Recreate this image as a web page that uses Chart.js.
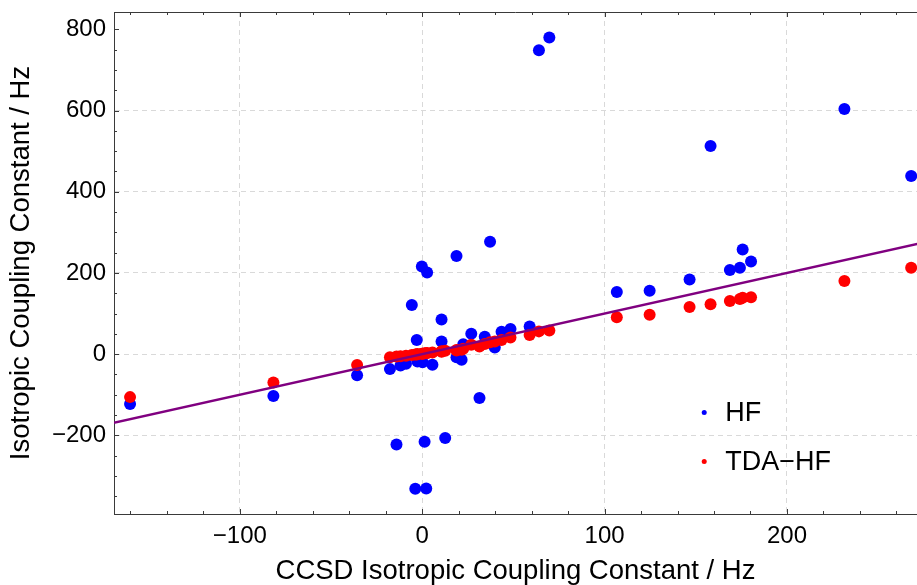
<!DOCTYPE html>
<html>
<head>
<meta charset="utf-8">
<script src="https://cdn.jsdelivr.net/npm/chart.js@4"></script>
<style>
  html, body { margin: 0; padding: 0; background: #fff; overflow: hidden; }
  canvas { display: block; }
</style>
</head>
<body>
<canvas id="couplingChart" width="917" height="585"></canvas>
<script>
// CCSD reference values (x) and the two methods (y)
const ccsd = [-160.2, -81.6, -35.7, -17.7, -14.1, -11.9, -8.9, -5.7, -3.8, -3.0, -2.6, -0.2, 0.2, 1.3, 2.2, 2.7,
    5.6, 10.6, 10.6, 12.6, 18.8, 18.8, 21.6, 22.5, 26.9, 31.4, 34.3, 37.2, 39.8, 43.5, 48.4, 58.9, 64.0, 69.7,
    106.7, 124.7, 146.6, 158.1, 168.7, 174.2, 175.7, 180.3, 231.5, 268.1];
const hf = [-123, -103, -52, -37, -223, -28, -24, 121, -332, 35, -18, 216, -20, -216, -331, 201,
    -26, 85, 31, -207, 242, -8, -14, 24, 50, -108, 43, 277, 16, 55, 62, 68, 749, 780,
    153, 156, 184, 513, 207, 213, 258, 228, 604, 439];
const tdaHf = [-106, -70, -27, -8, -6, -5, -4, -2, -1, -1, 0, 1, 1, 2, 2, 3,
    4, 6, 7, 8, 9, 10, 11, 13, 23, 19, 25, 29, 31, 35, 41, 47, 56, 58,
    91, 97, 116, 123, 131, 136, 139, 140, 180, 213];

// y = x reference line
const refLineX = [-300, 400];
const refLineY = [-300, 400];

// tick labels
const xTicks = [-100, 0, 100, 200];
const yTicks = [-200, 0, 200, 400, 600, 800];
const xMinorStep = 20;
const yMinorStep = 50;
const legendOrder = ['HF', 'TDA\u2212HF'];

const fmt = v => (v < 0 ? '\u2212' + Math.abs(v) : String(v));
const FONT = "'Liberation Sans', Arial, sans-serif";

// inner frame ticks, top frame line and the legend
const frameAndLegend = {
    id: 'frameAndLegend',
    afterDatasetsDraw(chart) {
        const ctx = chart.ctx;
        const area = chart.chartArea;
        const xs = chart.scales.x;
        const ys = chart.scales.y;
        ctx.save();
        ctx.strokeStyle = '#3a3a3a';
        ctx.lineWidth = 1;

        // top frame
        ctx.beginPath();
        ctx.moveTo(area.left, area.top + 0.5);
        ctx.lineTo(area.right, area.top + 0.5);
        ctx.stroke();

        // x ticks (bottom + top, pointing inward)
        for (let v = Math.ceil(xs.min / xMinorStep) * xMinorStep; v <= xs.max; v += xMinorStep) {
            const px = Math.round(xs.getPixelForValue(v)) + 0.5;
            const len = v % 100 === 0 ? 5 : 3;
            ctx.beginPath();
            ctx.moveTo(px, area.bottom);
            ctx.lineTo(px, area.bottom - len);
            ctx.moveTo(px, area.top);
            ctx.lineTo(px, area.top + len);
            ctx.stroke();
        }
        // y ticks (left, pointing inward)
        for (let v = Math.ceil(ys.min / yMinorStep) * yMinorStep; v <= ys.max; v += yMinorStep) {
            const py = Math.round(ys.getPixelForValue(v)) + 0.5;
            const len = v % 200 === 0 ? 5 : 3;
            ctx.beginPath();
            ctx.moveTo(area.left, py);
            ctx.lineTo(area.left + len, py);
            ctx.stroke();
        }

        // legend
        const lx = area.left + (area.right - area.left) * 0.735;
        let ly = area.top + (area.bottom - area.top) * 0.798;
        ctx.font = '27px ' + FONT;
        ctx.textBaseline = 'middle';
        legendOrder.forEach(name => {
            const d = chart.data.datasets.find(ds => ds.label === name);
            ctx.beginPath();
            ctx.fillStyle = d.backgroundColor;
            ctx.arc(lx, ly, 2.5, 0, Math.PI * 2);
            ctx.fill();
            ctx.fillStyle = '#000';
            ctx.fillText(d.label, lx + 21, ly + 1);
            ly += 49;
        });
        ctx.restore();
    }
};

const gridColor = c => (c.tick && c.tick.value === 800 ? 'rgba(0,0,0,0)' : '#d9d9d9');

const chart = new Chart(document.getElementById('couplingChart'), {
    type: 'scatter',
    data: {
        datasets: [
            {
                type: 'line',
                label: 'y = x',
                data: refLineX.map((x, i) => ({ x: x, y: refLineY[i] })),
                borderColor: '#800080',
                borderWidth: 2.5,
                pointRadius: 0,
                fill: false,
                order: 0
            },
            {
                label: 'TDA\u2212HF',
                data: ccsd.map((x, i) => ({ x: x, y: tdaHf[i] })),
                backgroundColor: '#ff0000',
                borderWidth: 0,
                pointRadius: 6,
                order: 1
            },
            {
                label: 'HF',
                data: ccsd.map((x, i) => ({ x: x, y: hf[i] })),
                backgroundColor: '#0000ff',
                borderWidth: 0,
                pointRadius: 6,
                order: 2
            }
        ]
    },
    options: {
        responsive: false,
        animation: false,
        layout: { autoPadding: false, padding: { top: 12, right: 0, left: 0, bottom: 0 } },
        plugins: {
            legend: { display: false },
            tooltip: { enabled: false }
        },
        scales: {
            x: {
                type: 'linear',
                min: -169,
                max: 271.3,
                afterBuildTicks: s => { s.ticks = xTicks.map(v => ({ value: v })); },
                afterFit: s => { s.height = 71; s.paddingLeft = 0; s.paddingRight = 0; },
                grid: { color: gridColor, drawTicks: false },
                border: { display: true, color: '#3a3a3a', width: 1, dash: [5, 4] },
                ticks: {
                    color: '#000',
                    font: { family: FONT, size: 24 },
                    padding: 8,
                    maxRotation: 0,
                    callback: v => fmt(v)
                },
                title: {
                    display: true,
                    text: 'CCSD Isotropic Coupling Constant / Hz',
                    color: '#000',
                    font: { family: FONT, size: 27.5, lineHeight: 1 },
                    padding: { top: 0, bottom: 0 }
                }
            },
            y: {
                type: 'linear',
                min: -394,
                max: 843,
                afterBuildTicks: s => { s.ticks = yTicks.map(v => ({ value: v })); },
                afterFit: s => { s.width = 114; s.paddingTop = 0; s.paddingBottom = 0; },
                grid: { color: gridColor, drawTicks: false },
                border: { display: true, color: '#3a3a3a', width: 1, dash: [5, 4] },
                ticks: {
                    color: '#000',
                    font: { family: FONT, size: 24 },
                    padding: 8,
                    callback: v => fmt(v)
                },
                title: {
                    display: true,
                    text: 'Isotropic Coupling Constant / Hz',
                    color: '#000',
                    font: { family: FONT, size: 27.5, lineHeight: 1 },
                    padding: { top: 8, bottom: 0 }
                }
            }
        }
    },
    plugins: [frameAndLegend]
});
</script>
</body>
</html>
